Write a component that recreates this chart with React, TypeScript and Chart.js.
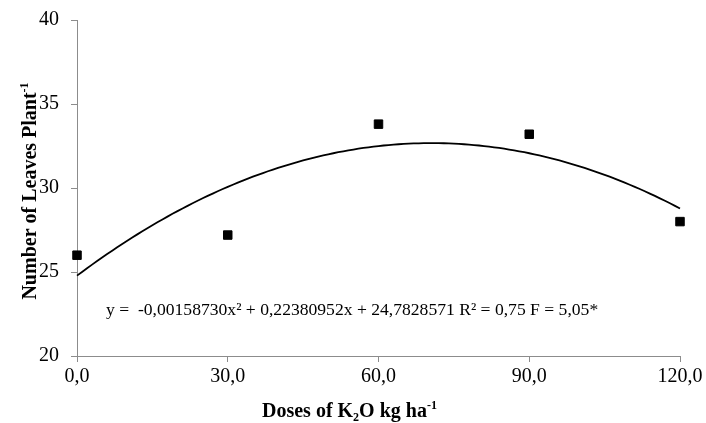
import React, { useEffect, useRef } from "react";
import { Chart, registerables } from "chart.js";

Chart.register(...registerables);

const DOSES = [0, 30, 60, 90, 120];
const LEAVES = [26.0, 27.2, 33.8, 33.2, 28.0];
const Y_MIN = 20;
const Y_MAX = 40;
const Y_STEP = 5;
const X_MIN = 0;
const X_MAX = 120;
const X_STEP = 30;
// regression coefficients as printed on the chart
const COEF_A = -0.0015873;
const COEF_B = 0.22380952;
const COEF_C = 24.7828571;
const EQUATION = "y =  -0,00158730x² + 0,22380952x + 24,7828571 R² = 0,75 F = 5,05*";

const FONT = "'Liberation Serif', 'Times New Roman', serif";
const AXIS_GRAY = "#8c8c8c";

type Seg = { t: string; mode: "n" | "sup" | "sub" };

function drawRich(ctx: CanvasRenderingContext2D, segs: Seg[], x: number, y: number, size: number, weight: string) {
  let cx = x;
  for (const s of segs) {
    const sz = s.mode === "n" ? size : Math.round(size * 0.62);
    ctx.font = `${weight} ${sz}px ${FONT}`;
    const dy = s.mode === "sup" ? -size * 0.38 : s.mode === "sub" ? size * 0.22 : 0;
    ctx.fillText(s.t, cx, y + dy);
    cx += ctx.measureText(s.t).width;
  }
  return cx - x;
}

function measureRich(ctx: CanvasRenderingContext2D, segs: Seg[], size: number, weight: string) {
  let w = 0;
  for (const s of segs) {
    const sz = s.mode === "n" ? size : Math.round(size * 0.62);
    ctx.font = `${weight} ${sz}px ${FONT}`;
    w += ctx.measureText(s.t).width;
  }
  return w;
}

const textPlugin = {
  id: "richText",
  afterDraw(chart: any) {
    const ctx: CanvasRenderingContext2D = chart.ctx;
    ctx.save();
    ctx.fillStyle = "#000";
    ctx.textAlign = "left";
    ctx.textBaseline = "alphabetic";

    // X title
    const xSegs: Seg[] = [
      { t: "Doses of K", mode: "n" },
      { t: "2", mode: "sub" },
      { t: "O kg ha", mode: "n" },
      { t: "-1", mode: "sup" },
    ];
    drawRich(ctx, xSegs, 262, 417, 20, "bold");

    // Y title
    const ySegs: Seg[] = [
      { t: "Number of Leaves Plant", mode: "n" },
      { t: "-1", mode: "sup" },
    ];
    const yw = measureRich(ctx, ySegs, 20, "bold");
    ctx.save();
    ctx.translate(36, 191);
    ctx.rotate(-Math.PI / 2);
    drawRich(ctx, ySegs, -yw / 2, 0, 20, "bold");
    ctx.restore();

    // equation
    ctx.font = `17.6px ${FONT}`;
    ctx.fillText(EQUATION, 106, 315);
    ctx.restore();
  },
};

export default function App() {
  const ref = useRef<HTMLCanvasElement>(null);

  useEffect(() => {
    const curve: { x: number; y: number }[] = [];
    for (let x = X_MIN; x <= X_MAX; x += 1) {
      curve.push({ x, y: COEF_A * x * x + COEF_B * x + COEF_C });
    }
    const points = DOSES.map((d, i) => ({ x: d, y: LEAVES[i] }));

    const chart = new Chart(ref.current!, {
      type: "scatter",
      data: {
        datasets: [
          {
            type: "line",
            data: curve,
            borderColor: "#000",
            borderWidth: 1.8,
            pointRadius: 0,
            fill: false,
            tension: 0,
            clip: false,
            order: 2,
          } as any,
          {
            type: "scatter",
            data: points,
            pointStyle: "rect",
            pointRadius: 6,
            backgroundColor: "#000",
            borderColor: "#000",
            borderWidth: 1,
            clip: false,
            order: 1,
          } as any,
        ],
      },
      options: {
        responsive: false,
        animation: false,
        events: [],
        layout: { padding: { top: 20, right: 26, left: 0, bottom: 0 } },
        plugins: { legend: { display: false }, tooltip: { enabled: false } },
        scales: {
          x: {
            type: "linear",
            min: X_MIN,
            max: X_MAX,
            afterFit: (s: any) => {
              s.height = 67;
              s.paddingLeft = 0;
              s.paddingRight = 0;
            },
            ticks: {
              stepSize: X_STEP,
              color: "#000",
              font: { family: FONT, size: 20 },
              padding: 3,
              maxRotation: 0,
              callback: (v: any) => Number(v).toFixed(1).replace(".", ","),
            },
            grid: { drawOnChartArea: false, drawTicks: true, tickLength: 6, color: AXIS_GRAY },
            border: { color: AXIS_GRAY, width: 1 },
          },
          y: {
            type: "linear",
            min: Y_MIN,
            max: Y_MAX,
            afterFit: (s: any) => {
              s.width = 77;
              s.paddingTop = 0;
              s.paddingBottom = 0;
            },
            ticks: {
              stepSize: Y_STEP,
              color: "#000",
              font: { family: FONT, size: 20 },
              padding: 12,
            },
            grid: { drawOnChartArea: false, drawTicks: true, tickLength: 6, color: AXIS_GRAY },
            border: { color: AXIS_GRAY, width: 1 },
          },
        },
      },
      plugins: [textPlugin],
    });
    return () => chart.destroy();
  }, []);

  return (
    <div style={{ position: "fixed", left: 0, top: 0, width: 706, height: 423, background: "#fff" }}>
      <canvas ref={ref} width={706} height={423} style={{ display: "block" }} />
    </div>
  );
}
